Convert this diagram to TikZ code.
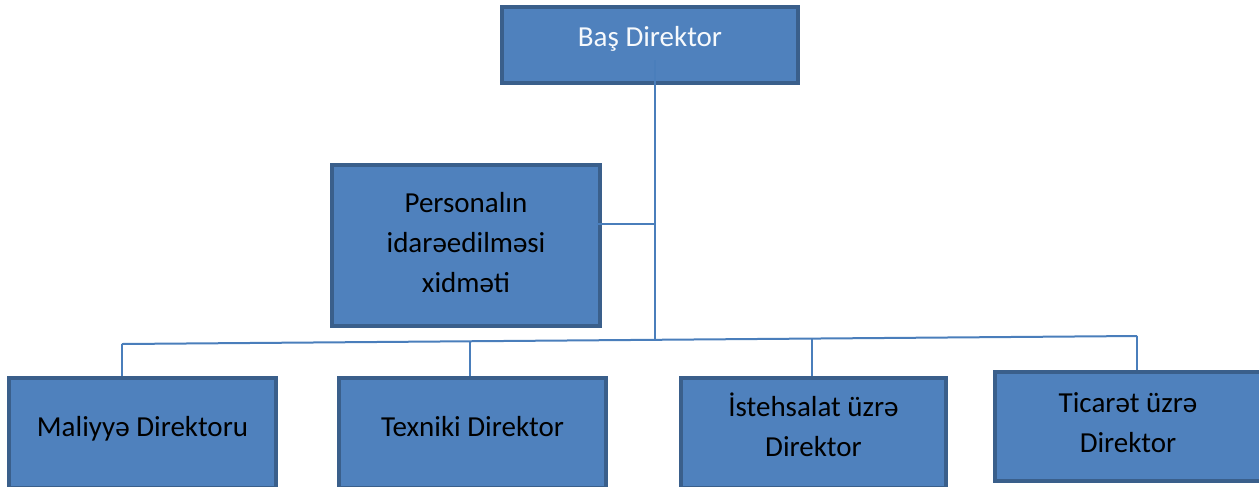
\documentclass[tikz,border=0pt]{standalone}
\usepackage{fontspec}
\setmainfont{Carlito}
\definecolor{boxfill}{HTML}{4F81BD}
\definecolor{boxline}{HTML}{3A5F8B}
\definecolor{linkblue}{HTML}{4A7EBB}

\begin{document}
\begin{tikzpicture}[x=0.75pt,y=-0.75pt,
        box/.style={rectangle,draw=boxline,fill=boxfill,line width=3pt,inner sep=0pt,
          align=center,text height=16pt,font=\fontsize{21.75}{30}\selectfont},
        wide/.style={minimum width=200pt,minimum height=82.5pt},
        link/.style={draw=linkblue,line width=1.5pt}]
        \useasboundingbox (0,0) rectangle (1259,486);
        \node[box,minimum width=222pt,minimum height=57pt,text=white!95!boxfill,text depth=14.2pt] (0) at (650,45) {Baş Direktor};
        \node[box,minimum width=201pt,minimum height=120.75pt,text height=72pt,text depth=2pt] (1) at (466,245.5) {Personalın\\idarəedilməsi\\xidməti};
        \node[box,wide,text depth=10.4pt] (2) at (142.5,433) {Maliyyə Direktoru};
        \node[box,wide,text depth=10.4pt] (3) at (472.5,433) {Texniki Direktor};
        \node[box,wide,minimum width=198.75pt,text height=36pt,text depth=0.4pt] (4) at (813.5,433) {İstehsalat üzrə\\Direktor};
        \node[box,wide,minimum width=199.5pt,minimum height=81.75pt,text height=40pt,text depth=0.7pt] (5) at (1128,426.5) {Ticarət üzrə\\Direktor};
        % bus and trunk
        \coordinate (t) at (655,60);
        \coordinate (bl) at (122,344);
        \coordinate (br) at (1137,336);
        \coordinate (m) at (655,339.8);
        \coordinate (b3) at (470,341.3);
        \coordinate (b4) at (812,338.6);
        \draw[link] (t) -- (m);
        \draw[link] ([xshift=-4pt,yshift=16pt]1.east) -- ([yshift=16pt]1.east -| t);
        \draw[link] (bl) -- (br);
        \draw[link] (bl) -- (bl |- 2.north);
        \draw[link] (b3) -- (b3 |- 3.north);
        \draw[link] (b4) -- (b4 |- 4.north);
        \draw[link] (br) -- (br |- 5.north);
\end{tikzpicture}
\end{document}
